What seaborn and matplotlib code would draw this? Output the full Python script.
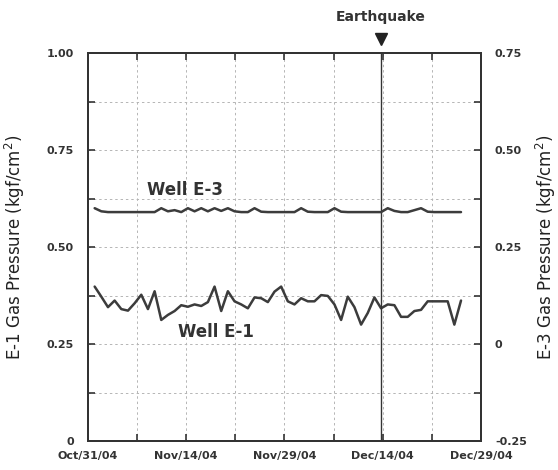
import numpy as np
import pandas as pd
import matplotlib
matplotlib.use("Agg")
import matplotlib.pyplot as plt
import seaborn as sns
from matplotlib.ticker import MultipleLocator, FixedLocator, FuncFormatter

# days counted from Oct/31/04
days = list(range(1, 57))

e1_pressure = [
    0.398, 0.372, 0.345, 0.362, 0.340, 0.336, 0.355, 0.377, 0.340, 0.386,
    0.312, 0.325, 0.335, 0.350, 0.346, 0.352, 0.348, 0.358, 0.398, 0.335,
    0.386, 0.360, 0.352, 0.342, 0.370, 0.368, 0.358, 0.385, 0.398, 0.360,
    0.352, 0.368, 0.360, 0.360, 0.376, 0.374, 0.352, 0.312, 0.372, 0.345,
    0.300, 0.330, 0.370, 0.342, 0.352, 0.350, 0.320, 0.320, 0.335, 0.338,
    0.360, 0.360, 0.360, 0.360, 0.300, 0.362,
]

e3_pressure = [
    0.350, 0.342, 0.340, 0.340, 0.340, 0.340, 0.340, 0.340, 0.340, 0.340,
    0.350, 0.342, 0.345, 0.340, 0.350, 0.342, 0.350, 0.342, 0.350, 0.343,
    0.350, 0.342, 0.340, 0.340, 0.350, 0.341, 0.340, 0.340, 0.340, 0.340,
    0.340, 0.350, 0.341, 0.340, 0.340, 0.340, 0.350, 0.341, 0.340, 0.340,
    0.340, 0.340, 0.340, 0.340, 0.350, 0.343, 0.340, 0.340, 0.345, 0.350,
    0.341, 0.340, 0.340, 0.340, 0.340, 0.340,
]

tick_labels = ["Oct/31/04", "Nov/14/04", "Nov/29/04", "Dec/14/04", "Dec/29/04"]
quake_day = 44  # Dec/14/04

df = pd.DataFrame({"day": days, "E1": e1_pressure, "E3": e3_pressure})

sns.set_style("ticks")
plt.rcParams["font.family"] = ["DejaVu Sans"]

fig = plt.figure(figsize=(5.58, 4.70), dpi=100)
ax = fig.add_axes([0.1577, 0.0617, 0.7043, 0.8255])
ax2 = ax.twinx()

line_col = "#3c3c3c"
sns.lineplot(data=df, x="day", y="E1", ax=ax, color=line_col, lw=1.8)
sns.lineplot(data=df, x="day", y="E3", ax=ax2, color=line_col, lw=1.8)

ax.set_xlim(0, 59)
ax.set_ylim(0, 1.0)
ax2.set_ylim(-0.25, 0.75)

major_x = np.linspace(0, 59, 5)
ax.xaxis.set_major_locator(FixedLocator(major_x))
ax.xaxis.set_minor_locator(FixedLocator(np.linspace(0, 59, 9)))
ax.set_xticklabels(tick_labels)

ax.yaxis.set_major_locator(MultipleLocator(0.25))
ax.yaxis.set_minor_locator(MultipleLocator(0.125))
ax2.yaxis.set_major_locator(MultipleLocator(0.25))
ax2.yaxis.set_minor_locator(MultipleLocator(0.125))

fmt = FuncFormatter(lambda v, p: "0" if abs(v) < 1e-9 else "%.2f" % v)
ax.yaxis.set_major_formatter(fmt)
ax2.yaxis.set_major_formatter(fmt)

grid_kw = dict(color="#b5b5b5", linestyle=(0, (2.5, 3)), linewidth=0.7)
ax.grid(which="both", axis="both", **grid_kw)
ax.set_axisbelow(True)

for a in (ax, ax2):
    a.tick_params(which="both", direction="in", length=5, width=1.2,
                  colors="#333333", labelsize=8, top=True)
    for s in a.spines.values():
        s.set_linewidth(1.4)
        s.set_color("#333333")
    for lab in a.get_xticklabels() + a.get_yticklabels():
        lab.set_fontweight("bold")
ax.tick_params(axis="x", pad=7)
ax.tick_params(axis="y", pad=10)
ax2.tick_params(axis="y", pad=10)

ax.set_xlabel("")
ax.set_ylabel("E-1 Gas Pressure (kgf/cm$^2$)", fontsize=12, color="#222222")
ax2.set_ylabel("E-3 Gas Pressure (kgf/cm$^2$)", fontsize=12, color="#222222")
ax.yaxis.set_label_coords(-0.155, 0.5)
ax2.yaxis.set_label_coords(1.135, 0.5)

# earthquake marker
ax.axvline(quake_day, color="#333333", lw=1.0)
ax.plot([quake_day], [1.035], marker="v", color="#222222", markersize=8,
        clip_on=False)
ax.text(quake_day, 1.075, "Earthquake", ha="center", va="bottom",
        fontsize=10, fontweight="bold", color="#333333")

ax.text(14.5, 0.647, "Well E-3", ha="center", va="center", fontsize=12,
        fontweight="bold", color="#333333")
ax.text(19.2, 0.281, "Well E-1", ha="center", va="center", fontsize=12,
        fontweight="bold", color="#333333")

fig.savefig("out.png", dpi=100)
